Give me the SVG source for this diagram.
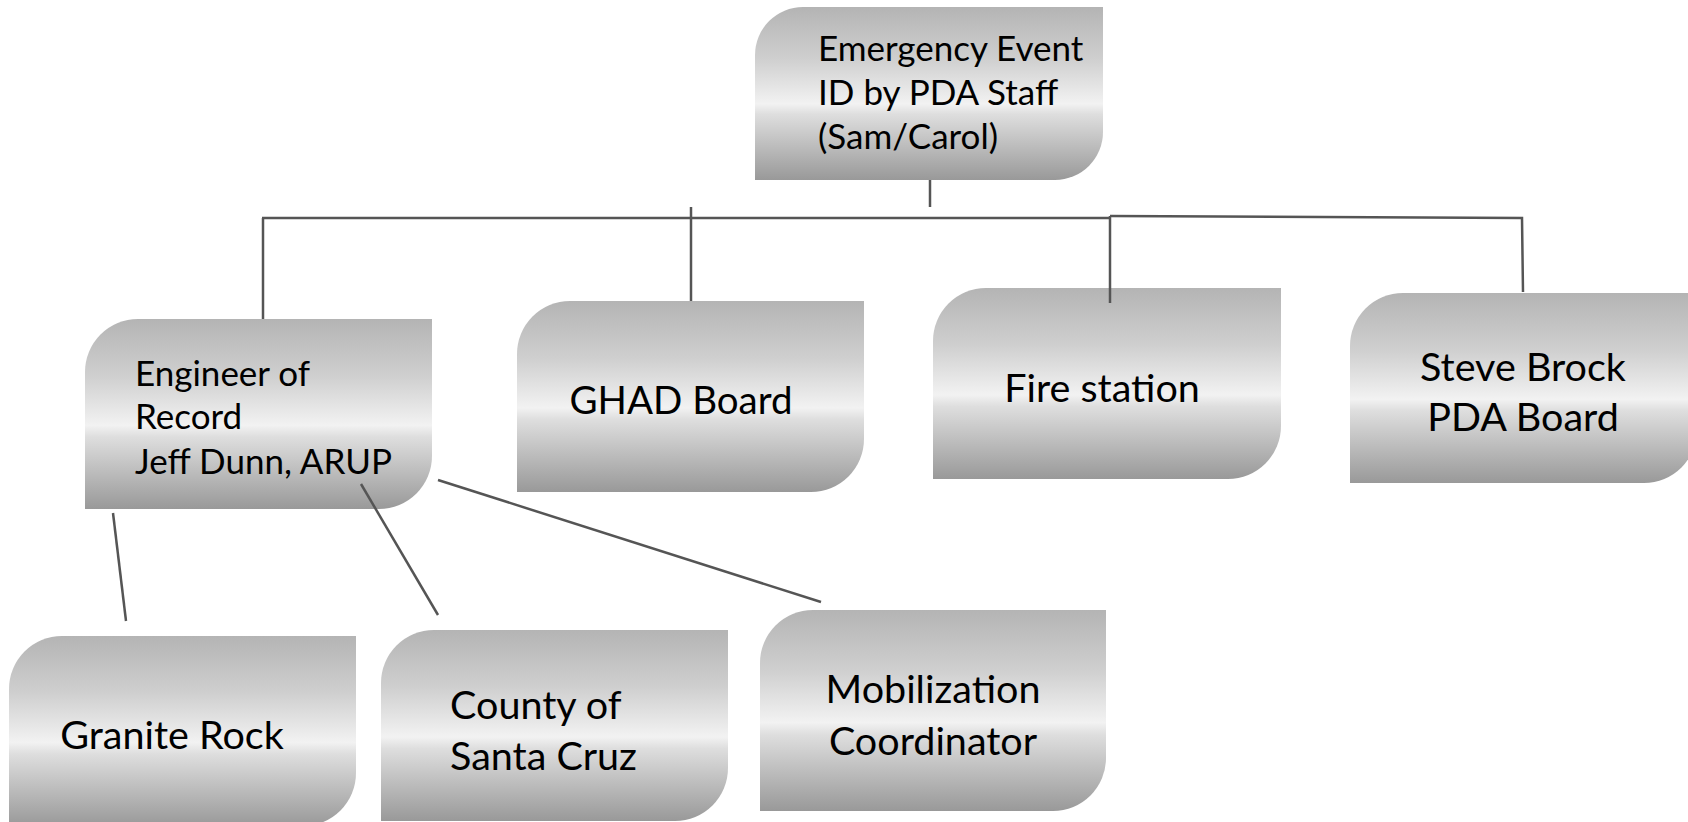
<svg xmlns="http://www.w3.org/2000/svg" width="1688" height="822" viewBox="0 0 1688 822">
<defs>
<linearGradient id="silver" x1="0" y1="0" x2="0" y2="1">
<stop offset="0" stop-color="#b4b4b4"/>
<stop offset="0.3" stop-color="#cfcfcf"/>
<stop offset="0.56" stop-color="#f2f2f2"/>
<stop offset="0.62" stop-color="#dedede"/>
<stop offset="1" stop-color="#999999"/>
</linearGradient>
</defs>
<style>
.box{fill:url(#silver);stroke:none}
.lbl{font-family:Lato,"Liberation Sans",sans-serif;font-size:35px;fill:#000}
.big{font-size:39.5px}
.mid{text-anchor:middle}
.conn line,.conn polyline{stroke:#555555;stroke-width:2.5;fill:none}
</style>
<rect width="1688" height="822" fill="#ffffff"/>
<g id="node-emergency">
<path class="box" d="M755,55 A48,48 0 0 1 803,7 H1103 V132 A48,48 0 0 1 1055,180 H755 Z"/>
<text class="lbl" x="818" y="61">Emergency Event</text>
<text class="lbl" x="818" y="105">ID by PDA Staff</text>
<text class="lbl" x="818" y="149">(Sam/Carol)</text>
</g>
<g id="node-engineer">
<path class="box" d="M85,372 A53,53 0 0 1 138,319 H432 V456 A53,53 0 0 1 379,509 H85 Z"/>
<text class="lbl" x="135" y="386">Engineer of</text>
<text class="lbl" x="135" y="429">Record</text>
<text class="lbl" x="135" y="474">Jeff Dunn, ARUP</text>
</g>
<g id="node-ghad">
<path class="box" d="M517,354 A53,53 0 0 1 570,301 H864 V439 A53,53 0 0 1 811,492 H517 Z"/>
<text class="lbl big mid" x="681" y="414" style="font-size:38.5px">GHAD Board</text>
</g>
<g id="node-fire">
<path class="box" d="M933,341 A53,53 0 0 1 986,288 H1281 V426 A53,53 0 0 1 1228,479 H933 Z"/>
<text class="lbl big mid" x="1102" y="402">Fire station</text>
</g>
<g id="node-steve">
<path class="box" d="M1350,346 A53,53 0 0 1 1403,293 H1697 V430 A53,53 0 0 1 1644,483 H1350 Z"/>
<text class="lbl big mid" x="1523" y="381">Steve Brock</text>
<text class="lbl big mid" x="1523" y="431">PDA Board</text>
</g>
<g id="node-granite">
<path class="box" d="M9,689 A53,53 0 0 1 62,636 H356 V773 A53,53 0 0 1 303,826 H9 Z"/>
<text class="lbl big mid" x="172" y="749">Granite Rock</text>
</g>
<g id="node-county">
<path class="box" d="M381,683 A53,53 0 0 1 434,630 H728 V768 A53,53 0 0 1 675,821 H381 Z"/>
<text class="lbl big" x="450" y="719">County of</text>
<text class="lbl big" x="450" y="770">Santa Cruz</text>
</g>
<g id="node-mobilization">
<path class="box" d="M760,663 A53,53 0 0 1 813,610 H1106 V758 A53,53 0 0 1 1053,811 H760 Z"/>
<text class="lbl big mid" x="933" y="703">Mobilization</text>
<text class="lbl big mid" x="933" y="755">Coordinator</text>
</g>
<g class="conn" id="connectors">
<line x1="930" y1="180" x2="930" y2="207"/>
<line x1="262" y1="218" x2="1110" y2="218"/>
<polyline points="1110,216 1522,218 1523,292"/>
<line x1="263" y1="218" x2="263" y2="319"/>
<line x1="691" y1="207" x2="691" y2="301"/>
<line x1="1110" y1="216" x2="1110" y2="303"/>
<line x1="113" y1="513" x2="126" y2="621"/>
<line x1="361" y1="484" x2="438" y2="615"/>
<line x1="438" y1="480" x2="821" y2="602"/>
</g>
</svg>
